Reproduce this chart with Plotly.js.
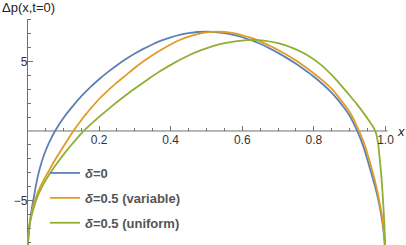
<!DOCTYPE html>
<html>
<head>
<meta charset="utf-8">
<script src="https://cdn.plot.ly/plotly-3.0.1.min.js"></script>
<style>html,body{margin:0;padding:0;background:#fff;}#chart{width:406px;height:245px;}</style>
</head>
<body>
<div id="chart"></div>
<script>
// ---- data ----
const seriesNames = ['<i>δ</i>=0', '<i>δ</i>=0.5 (variable)', '<i>δ</i>=0.5 (uniform)'];
const seriesColors = ['#5E81B5', '#E19C24', '#8FB032'];

const xBlue = [0.0003, 0.0015, 0.003, 0.006, 0.01, 0.016, 0.0237, 0.03, 0.04, 0.05, 0.06, 0.077, 0.09, 0.1, 0.115, 0.13, 0.15, 0.175, 0.2, 0.225, 0.25, 0.275, 0.3, 0.325, 0.35, 0.375, 0.4, 0.425, 0.45, 0.475, 0.5, 0.525, 0.55, 0.575, 0.6, 0.625, 0.65, 0.675, 0.7, 0.725, 0.75, 0.775, 0.8, 0.825, 0.85, 0.87, 0.885, 0.9, 0.91, 0.921, 0.93, 0.94, 0.947, 0.955, 0.965, 0.974, 0.982, 0.989, 0.994, 0.997, 0.999, 0.9999];
const yBlue = [-9.8, -8.2, -7.5, -6.7, -5.9, -5.0, -3.9, -3.14, -2.2, -1.46, -0.85, 0, 0.54, 0.92, 1.43, 1.9, 2.49, 3.14, 3.72, 4.25, 4.73, 5.17, 5.57, 5.92, 6.24, 6.51, 6.73, 6.91, 7.04, 7.12, 7.14, 7.12, 7.04, 6.91, 6.74, 6.53, 6.27, 5.96, 5.62, 5.24, 4.83, 4.38, 3.9, 3.36, 2.74, 2.15, 1.65, 1.1, 0.6, 0, -0.55, -1.25, -1.85, -2.55, -3.45, -4.3, -5.2, -6.2, -7.1, -7.9, -8.8, -10.5];

const xOrange = [0.0002, 0.0007, 0.0015, 0.003, 0.006, 0.01, 0.016, 0.024, 0.035, 0.047, 0.06, 0.072, 0.085, 0.1, 0.115, 0.128, 0.14, 0.155, 0.17, 0.185, 0.2, 0.22, 0.247, 0.275, 0.3, 0.325, 0.35, 0.375, 0.4, 0.425, 0.45, 0.475, 0.5, 0.53, 0.55, 0.575, 0.6, 0.625, 0.65, 0.675, 0.7, 0.725, 0.75, 0.775, 0.8, 0.825, 0.85, 0.87, 0.885, 0.9, 0.91, 0.92, 0.926, 0.935, 0.945, 0.952, 0.96, 0.969, 0.977, 0.985, 0.991, 0.995, 0.998, 0.9995, 0.99995];
const yOrange = [-10, -8.8, -8.0, -7.3, -6.65, -6.1, -5.4, -4.73, -4.05, -3.45, -2.85, -2.3, -1.74, -1.13, -0.52, 0, 0.43, 0.94, 1.42, 1.87, 2.3, 2.8, 3.42, 4.02, 4.55, 5.03, 5.47, 5.86, 6.22, 6.54, 6.79, 6.97, 7.09, 7.15, 7.12, 7.03, 6.88, 6.69, 6.45, 6.16, 5.82, 5.47, 5.07, 4.62, 4.14, 3.62, 3.02, 2.4, 1.9, 1.36, 0.9, 0.33, 0, -0.55, -1.25, -1.85, -2.55, -3.42, -4.3, -5.35, -6.2, -7.1, -7.9, -8.8, -10.5];

const xGreen = [0.0002, 0.0007, 0.0015, 0.003, 0.006, 0.01, 0.015, 0.022, 0.03, 0.04, 0.052, 0.068, 0.084, 0.1, 0.12, 0.14, 0.157, 0.178, 0.2, 0.22, 0.25, 0.29, 0.33, 0.37, 0.41, 0.45, 0.485, 0.52, 0.55, 0.58, 0.605, 0.63, 0.66, 0.7, 0.74, 0.78, 0.82, 0.86, 0.882, 0.9, 0.92, 0.94, 0.955, 0.965, 0.97, 0.974, 0.977, 0.98, 0.983, 0.986, 0.989, 0.991, 0.993, 0.995, 0.997, 0.9985, 0.9995, 0.99995];
const yGreen = [-10, -8.8, -8.0, -7.4, -6.8, -6.25, -5.75, -5.15, -4.6, -4.05, -3.5, -2.85, -2.27, -1.72, -1.08, -0.48, 0, 0.51, 1.01, 1.45, 2.08, 2.87, 3.6, 4.29, 4.9, 5.43, 5.81, 6.12, 6.32, 6.45, 6.52, 6.55, 6.5, 6.31, 5.98, 5.48, 4.75, 3.75, 3.1, 2.55, 1.93, 1.25, 0.7, 0.32, 0.08, -0.2, -0.55, -1.0, -1.75, -2.55, -3.45, -4.15, -4.95, -5.8, -6.8, -7.8, -9.0, -10.5];

const xTickVals = [0.2, 0.4, 0.6, 0.8, 1.0];
const xTickText = ['0.2', '0.4', '0.6', '0.8', '1.0'];
const xMinorVals = [0.05, 0.1, 0.15, 0.25, 0.3, 0.35, 0.45, 0.5, 0.55, 0.65, 0.7, 0.75, 0.85, 0.9, 0.95];
const yTickVals = [-5, 5];
const yTickText = ['−5', '5'];
const yMinorVals = [-8, -7, -6, -4, -3, -2, -1, 1, 2, 3, 4, 6, 7, 8];

const yTitle = 'Δp(x,t=0)';
const xTitle = '<i>x</i>';

// ---- layout ----
const xRange = [-0.0768, 1.0573];
const yRange = [-8.2, 9.42];
const xZeroPos = (0 - xRange[0]) / (xRange[1] - xRange[0]);
const yZeroPos = (0 - yRange[0]) / (yRange[1] - yRange[0]);
const axisColor = '#707070';
const font = 'Liberation Sans, Arial, sans-serif';

const xs = [xBlue, xOrange, xGreen];
const ys = [yBlue, yOrange, yGreen];
const traces = xs.map((x, i) => ({
  x: x, y: ys[i], type: 'scatter', mode: 'lines',
  name: seriesNames[i], legendgroup: 'g' + i,
  line: {color: seriesColors[i], width: 1.8, shape: 'spline', smoothing: 0.4}
}));

const layout = {
  width: 406, height: 245,
  margin: {l: 0, r: 0, t: 0, b: 0},
  paper_bgcolor: '#fff', plot_bgcolor: 'rgba(0,0,0,0)',
  font: {family: font, size: 12, color: '#333'},
  showlegend: true,
  legend: {
    x: 45 / 406, xanchor: 'left', y: 1 - 158 / 245, yanchor: 'top',
    bgcolor: 'rgba(0,0,0,0)', borderwidth: 0, tracegroupgap: 5,
    font: {family: font, size: 13, color: '#555', weight: 'bold'}
  },
  xaxis: {
    range: xRange, anchor: 'free', position: yZeroPos,
    showgrid: false, zeroline: false, showline: false,
    tickmode: 'array', tickvals: xTickVals, ticktext: xTickText,
    ticks: 'inside', ticklen: 4.5, tickwidth: 1, tickcolor: axisColor,
    tickfont: {family: font, size: 12, color: '#333'},
    minor: {tickmode: 'array', tickvals: xMinorVals, ticks: 'inside', ticklen: 2.5, tickwidth: 1, tickcolor: axisColor, showgrid: false}
  },
  yaxis: {
    range: yRange, anchor: 'free', position: xZeroPos,
    showgrid: false, zeroline: false, showline: false,
    tickmode: 'array', tickvals: yTickVals, ticktext: yTickText,
    ticks: 'inside', ticklen: 4.5, tickwidth: 1, tickcolor: axisColor,
    tickfont: {family: font, size: 12, color: '#333'},
    minor: {tickmode: 'array', tickvals: yMinorVals, ticks: 'inside', ticklen: 2.5, tickwidth: 1, tickcolor: axisColor, showgrid: false}
  },
  shapes: [
    {type: 'line', xref: 'x', yref: 'y', x0: 0, x1: 1.006, y0: 0, y1: 0, line: {color: axisColor, width: 1}, layer: 'below'},
    {type: 'line', xref: 'x', yref: 'y', x0: 0, x1: 0, y0: yRange[0], y1: 8.05, line: {color: axisColor, width: 1}, layer: 'below'}
  ],
  annotations: [
    {text: yTitle, xref: 'paper', yref: 'paper', x: 0, xanchor: 'left', y: 1 - 8 / 245, yanchor: 'middle', showarrow: false, font: {family: font, size: 13, color: '#222'}},
    {text: xTitle, xref: 'paper', yref: 'paper', x: 401 / 406, xanchor: 'center', y: 1 - 131 / 245, yanchor: 'middle', showarrow: false, font: {family: font, size: 13, color: '#222'}}
  ]
};

Plotly.newPlot('chart', traces, layout, {staticPlot: true, displayModeBar: false});
</script>
</body>
</html>
